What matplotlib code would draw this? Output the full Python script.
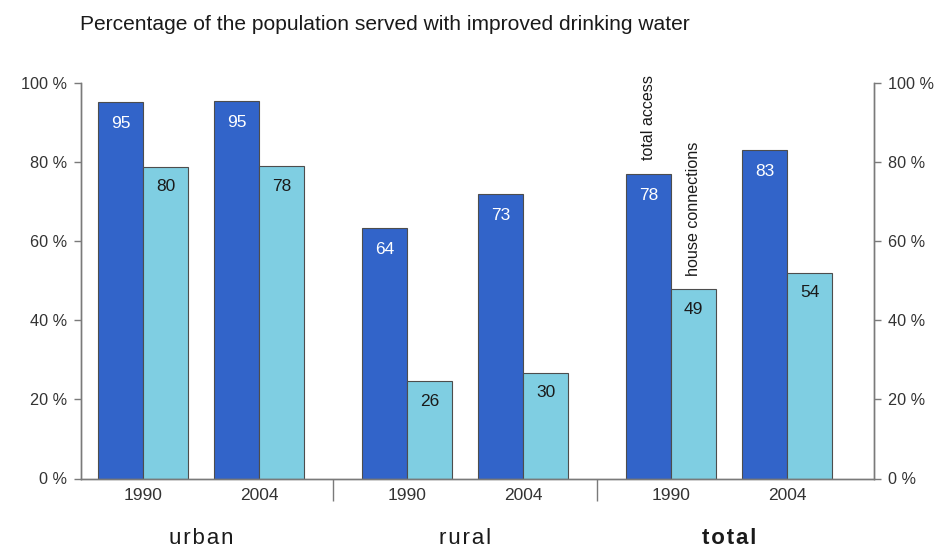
import numpy as np
import matplotlib
matplotlib.use("Agg")
import matplotlib.pyplot as plt

plt.rcParams['font.family'] = ['Liberation Sans', 'DejaVu Sans']

groups = ["urban", "rural", "total"]
years = ["1990", "2004"]

# printed values (labels)
access_labels = [95, 95, 64, 73, 78, 83]
house_labels = [80, 78, 26, 30, 49, 54]
# bar heights as drawn in the picture
access_height = [95.1, 95.4, 63.4, 71.9, 77.0, 83.0]
house_height = [78.8, 79.0, 24.6, 26.8, 47.8, 52.0]

yticks = [0, 20, 40, 60, 80, 100]

dark = "#3264c9"
light = "#7fcee2"
edge = "#4d4d4d"

# layout in pixel-like units along the axis
bw = 45
first = 62
pair_step = 116.3
group_step = 264

centers = []
for g in range(len(groups)):
    for j in range(len(years)):
        centers.append(first + g * group_step + j * pair_step)
centers = np.array(centers)

fig = plt.figure(figsize=(9.45, 5.52), dpi=100)
ax = fig.add_axes([81 / 945, 1 - 478.5 / 552, (874 - 81) / 945, (478.5 - 83) / 552])

ax.bar(centers - bw / 2, access_height, width=bw, color=dark, edgecolor=edge, linewidth=0.8)
ax.bar(centers + bw / 2, house_height, width=bw, color=light, edgecolor=edge, linewidth=0.8)

for i in range(len(centers)):
    ax.annotate(str(access_labels[i]), (centers[i] - bw / 2, access_height[i]),
                xytext=(0, -15.5), textcoords='offset points', ha='center', va='center',
                color='white', fontsize=12.5)
    ax.annotate(str(house_labels[i]), (centers[i] + bw / 2, house_height[i]),
                xytext=(0, -14.5), textcoords='offset points', ha='center', va='center',
                color='#1a1a1a', fontsize=12.5)

ax.annotate("total access", (centers[4] - bw / 2, access_height[4]),
            xytext=(0, 10), textcoords='offset points', ha='center', va='bottom',
            rotation=90, fontsize=11.6, color='#1a1a1a')
ax.annotate("house connections", (centers[4] + bw / 2, house_height[4]),
            xytext=(0, 10), textcoords='offset points', ha='center', va='bottom',
            rotation=90, fontsize=11.6, color='#1a1a1a')

ax.set_xlim(0, 874 - 81)
ax.set_ylim(0, 100)
ax.set_yticks(yticks)
ax.set_yticklabels([f"{t} %" for t in yticks])
ax.set_xticks(centers)
ax.set_xticklabels(years * len(groups))

ax2 = ax.twinx()
ax2.set_ylim(0, 100)
ax2.set_yticks(yticks)
ax2.set_yticklabels([f"{t} %" for t in yticks])

for a in (ax, ax2):
    a.spines['top'].set_visible(False)
    for s in ('left', 'right', 'bottom'):
        a.spines[s].set_color('#7a7a7a')
        a.spines[s].set_linewidth(1)
    a.tick_params(axis='y', length=5, width=1, color='#7a7a7a', labelsize=11.7,
                  labelcolor='#333333', pad=5)
ax.tick_params(axis='x', length=0, labelsize=12.5, labelcolor='#333333', pad=7)

# separators between the groups
seps = [(centers[1] + centers[2]) / 2, (centers[3] + centers[4]) / 2]
ax.vlines(seps, -0.058, 0, transform=ax.get_xaxis_transform(), colors='#7a7a7a',
          linewidth=1, clip_on=False)

# group names with a little letter spacing
hair = "\u200a"
for g in range(len(groups)):
    gx = (centers[2 * g] + centers[2 * g + 1]) / 2
    ax.text(gx, -0.152, hair.join(groups[g]), transform=ax.get_xaxis_transform(),
            ha='center', va='center', fontsize=16, color='#1a1a1a',
            fontweight='bold' if groups[g] == 'total' else 'normal')

fig.text(80 / 945, 1 - 24.5 / 552, "Percentage of the population served with improved drinking water",
         ha='left', va='center', fontsize=15.1, color='#1a1a1a')

fig.savefig("out.png", dpi=100)
